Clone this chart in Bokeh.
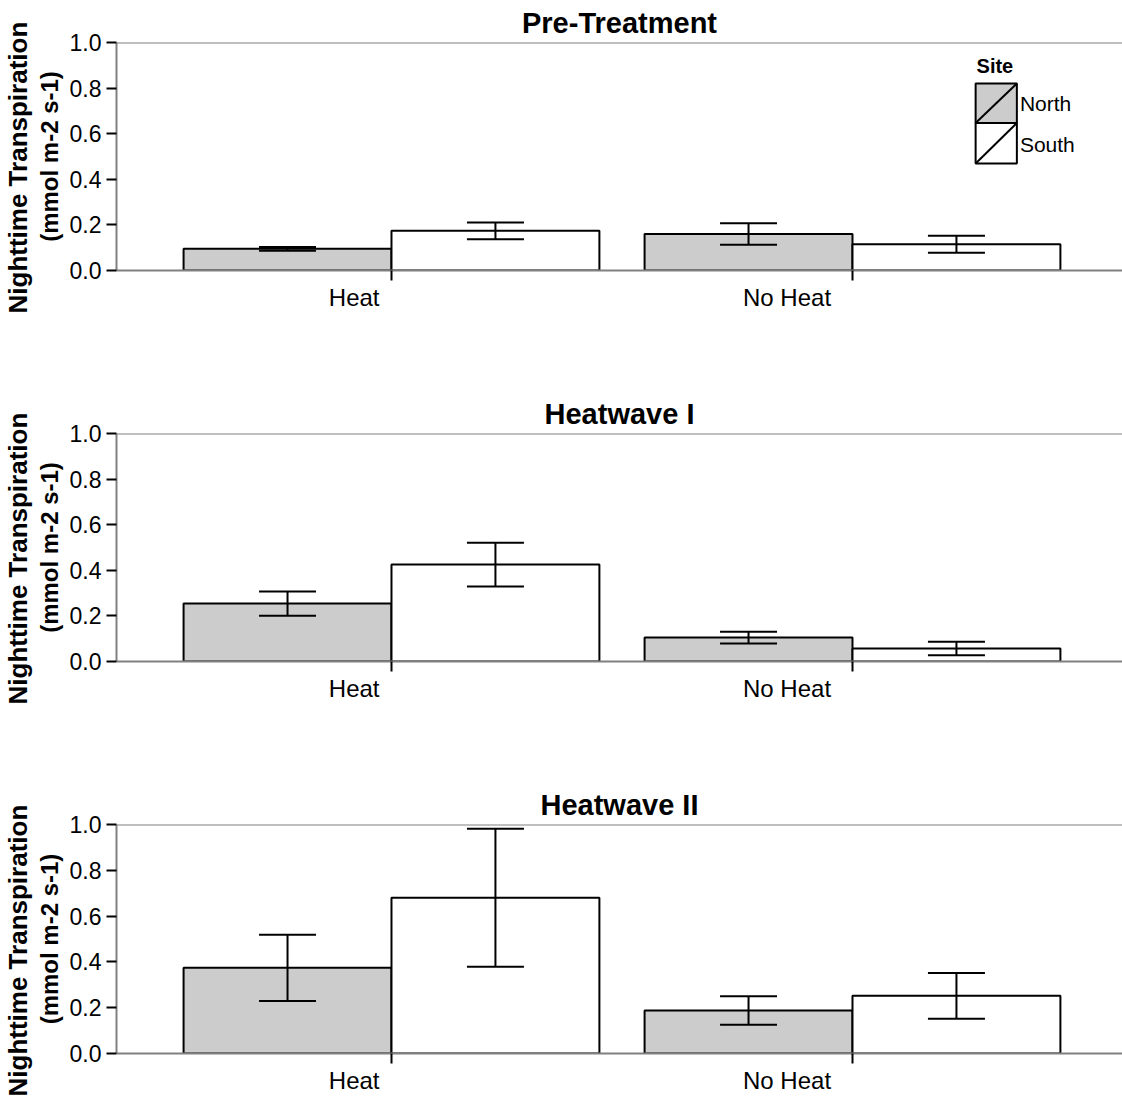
from bokeh.plotting import figure
from bokeh.layouts import column
from bokeh.models import (FixedTicker, Span, Title, Range1d, ColumnDataSource,
                          Whisker, TeeHead, PrintfTickFormatter)
from bokeh.embed import file_html
from bokeh.resources import INLINE
from bokeh.core.properties import value

# ---- data -----------------------------------------------------------------
periods = ["Pre-Treatment", "Heatwave I", "Heatwave II"]
treatments = ["Heat", "No Heat"]
sites = ["North", "South"]

pre_north = [0.095, 0.160]
pre_north_se = [0.008, 0.047]
pre_south = [0.174, 0.115]
pre_south_se = [0.037, 0.037]

hw1_north = [0.254, 0.105]
hw1_north_se = [0.053, 0.026]
hw1_south = [0.425, 0.057]
hw1_south_se = [0.096, 0.030]

hw2_north = [0.374, 0.188]
hw2_north_se = [0.145, 0.062]
hw2_south = [0.680, 0.252]
hw2_south_se = [0.301, 0.100]

y_ticks = [0.0, 0.2, 0.4, 0.6, 0.8, 1.0]

series = [
    (pre_north, pre_north_se, pre_south, pre_south_se),
    (hw1_north, hw1_north_se, hw1_south, hw1_south_se),
    (hw2_north, hw2_north_se, hw2_south, hw2_south_se),
]

# ---- styling --------------------------------------------------------------
FONT = "Liberation Sans"
GREY_AXIS = "#808080"
NORTH_FILL = "#cccccc"
SOUTH_FILL = "white"
BAR_W = 0.451
DODGE = BAR_W / 2
group_x = [1, 2]
label_shift = [-0.081, -0.142]
X0, X1 = 0.4035, 2.5857
heights = [391, 391, 315]
bottoms = [121, 121, 44]


def make_panel(idx):
    north, north_se, south, south_se = series[idx]
    p = figure(width=1122, height=heights[idx], output_backend="svg",
               toolbar_location=None, x_range=Range1d(X0, X1),
               y_range=Range1d(0, 1), min_border_left=116,
               min_border_right=0, min_border_top=42,
               min_border_bottom=bottoms[idx])
    p.grid.visible = False
    p.outline_line_color = None
    p.background_fill_color = "white"
    p.border_fill_color = "white"

    p.title.text = periods[idx]
    p.title.align = "center"
    p.title.text_font = FONT
    p.title.text_font_size = "29px"
    p.title.text_font_style = "bold"
    p.title.text_color = "black"
    p.title.standoff = 7

    # y axis, inner line of its title as the axis label
    yax = p.yaxis[0]
    yax.ticker = FixedTicker(ticks=y_ticks, minor_ticks=[])
    yax.formatter = PrintfTickFormatter(format="%.1f")
    yax.axis_line_color = GREY_AXIS
    yax.axis_line_width = 2
    yax.major_tick_line_color = "black"
    yax.major_tick_line_width = 2
    yax.major_tick_out = 10
    yax.major_tick_in = 0
    yax.major_label_text_font = FONT
    yax.major_label_text_font_size = "23px"
    yax.major_label_text_color = "black"
    yax.major_label_standoff = 5
    yax.axis_label = "(mmol m-2 s-1)"
    yax.axis_label_text_font = FONT
    yax.axis_label_text_font_size = "24px"
    yax.axis_label_text_font_style = "bold"
    yax.axis_label_text_color = "black"
    yax.axis_label_standoff = 4

    # x axis: labels on major ticks, group boundaries as minor ticks
    label_pos = [g + s for g, s in zip(group_x, label_shift)]
    xax = p.xaxis[0]
    xax.ticker = FixedTicker(ticks=label_pos, minor_ticks=group_x)
    xax.major_label_overrides = {lp: t for lp, t in zip(label_pos, treatments)}
    xax.axis_line_color = GREY_AXIS
    xax.axis_line_width = 2
    xax.major_tick_line_color = None
    xax.major_tick_out = 0
    xax.major_tick_in = 0
    xax.minor_tick_line_color = "black"
    xax.minor_tick_line_width = 2
    xax.minor_tick_out = 10
    xax.minor_tick_in = 0
    xax.major_label_text_font = FONT
    xax.major_label_text_font_size = "24px"
    xax.major_label_text_color = "black"
    xax.major_label_standoff = 3

    # outer line of the y axis title
    outer = Title(text="Nighttime Transpiration", align="left", offset=-43,
                  text_font=FONT, text_font_size="26px",
                  text_font_style="bold", text_color="black", standoff=0)
    p.add_layout(outer, "left")

    # top frame line
    p.add_layout(Span(location=1.0, dimension="width", line_color=GREY_AXIS,
                      line_width=2))

    # bars with standard-error whiskers
    for vals, ses, shift, fill in ((north, north_se, -DODGE, NORTH_FILL),
                                   (south, south_se, DODGE, SOUTH_FILL)):
        xs = [g + shift for g in group_x]
        src = ColumnDataSource(dict(
            x=xs, top=vals,
            upper=[v + e for v, e in zip(vals, ses)],
            lower=[v - e for v, e in zip(vals, ses)]))
        p.vbar(x="x", top="top", bottom=0, width=BAR_W, source=src,
               fill_color=fill, line_color="black", line_width=2)
        w = Whisker(base="x", upper="upper", lower="lower", source=src,
                    line_color="black", line_width=2, level="overlay",
                    upper_head=TeeHead(size=57, line_color="black", line_width=2),
                    lower_head=TeeHead(size=57, line_color="black", line_width=2))
        p.add_layout(w)

    # legend (first panel only), placed by fractions of the frame
    if idx == 0:
        span = X1 - X0
        bx0 = X0 + 0.854 * span
        bx1 = X0 + 0.895 * span
        box_top, box_mid, box_bot = 0.820, 0.647, 0.469
        p.quad(left=[bx0, bx0], right=[bx1, bx1],
               top=[box_top, box_mid], bottom=[box_mid, box_bot],
               fill_color=[NORTH_FILL, SOUTH_FILL], line_color="black",
               line_width=2)
        p.segment(x0=[bx0, bx0], y0=[box_mid, box_bot],
                  x1=[bx1, bx1], y1=[box_top, box_mid],
                  line_color="black", line_width=2)
        p.text(x=[bx0 + 0.002], y=[0.895], text=["Site"], text_font=value(FONT),
               text_font_size="20px", text_font_style="bold",
               text_baseline="alphabetic", text_align="left",
               text_color="black")
        lx = X0 + 0.898 * span
        p.text(x=[lx, lx], y=[0.732, 0.553], text=sites,
               text_font=value(FONT), text_font_size="21px",
               text_baseline="middle", text_align="left",
               text_color="black")
    return p


panels = [make_panel(i) for i in range(3)]
layout = column(*panels, spacing=0)

open("out.html", "w").write(file_html(layout, INLINE))
